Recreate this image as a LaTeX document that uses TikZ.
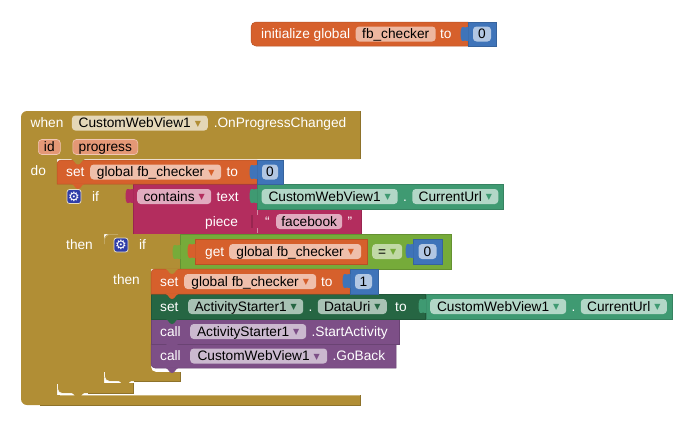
\documentclass[tikz,border=0pt]{standalone}
\usepackage{fontspec}
\setmainfont{Liberation Sans}
\newfontfamily\symfont{DejaVu Sans}
\usetikzlibrary{positioning}

\definecolor{orangeb}{HTML}{D6602C}
\definecolor{blueb}{HTML}{3F74B9}
\definecolor{mustb}{HTML}{B18E35}
\definecolor{crimb}{HTML}{B32D5E}
\definecolor{greenb}{HTML}{3F9A72}
\definecolor{darkb}{HTML}{266643}
\definecolor{purpb}{HTML}{7D4F87}
\definecolor{limeb}{HTML}{76AB3A}
\definecolor{gearb}{HTML}{2F3DA8}

% dropdown arrow inside a field
\newcommand{\drop}[1]{\hspace{4pt}\raisebox{1.2pt}{\symfont\fontsize{8}{8}\selectfont\textcolor{#1}{▼}}}
% tab under a statement block
\newcommand{\stab}[3]{\fill[#3] (#1+14,#2-.5) .. controls (#1+18,#2+1) and (#1+18,#2+5) .. (#1+21,#2+5) .. controls (#1+24,#2+5) and (#1+24,#2+1) .. (#1+28,#2-.5) -- cycle;}
% plug on the left of a value block
\newcommand{\vtab}[3]{\fill[#3] (#1+.5,#2+5) .. controls (#1-2,#2+7) and (#1-4,#2+4) .. (#1-6,#2+5) .. controls (#1-8,#2+7) and (#1-8,#2+17) .. (#1-6,#2+19) .. controls (#1-4,#2+20) and (#1-2,#2+17) .. (#1+.5,#2+19) -- cycle;}

\begin{document}
\begin{tikzpicture}[x=1pt,y=-1pt,font=\fontsize{13.7}{15}\selectfont,
    block/.style={fill=#1,draw=#1!85!black,line width=.5pt},
    lbl/.style={inner sep=0pt,text=white,text height=10pt,text depth=1pt},
    chip/.style={inner xsep=5pt,inner ysep=0pt,rounded corners=3.5pt,text=black,minimum height=15pt,text height=10pt,text depth=1pt},
    gear/.style={draw=mustb!30!white,fill=gearb,rounded corners=2.5pt,line width=.8pt,minimum size=14pt,inner sep=0pt,text=white,font=\symfont\fontsize{13}{13}\selectfont},
    hilite/.style={draw=mustb!65!white,line width=.5pt},
    shine/.style={draw=white!90!mustb,line width=.8pt}]
    \useasboundingbox (0,0) rectangle (690,426);

    % global variable
    \filldraw[block=orangeb,rounded corners=5pt] (300,46) -| (251,22) -- (300,22) [sharp corners] -- (468,22) -- (468,46) -- cycle;
    \filldraw[block=blueb] (468,22) rectangle (496,46);
    \vtab{468}{22}{blueb}
    \node[lbl,anchor=west] (init) at (261,34) {initialize global};
    \node[chip,fill=orangeb!45!white,minimum width=80pt] (initname) [right=5pt of init] {fb\_checker};
    \node[lbl] (initto) [right=4pt of initname] {to};
    \node[chip,fill=blueb!40!white,minimum width=18pt,inner xsep=0pt] (initval) at (482,34) {0};

    % event block
    \fill[mustb,rounded corners=6pt] (21,300) |- (60,111) [sharp corners] -- (360,111) -- (360,159) -- (57,159) -- (57,395) -- (360,395) -- (360,405) [rounded corners=6pt] -- (21,405) -- cycle;
    \draw[draw=mustb!80!black,line width=.6pt] (360,111) -- (360,159) (360,395) -- (360,405) -- (40,405);
    \draw[hilite] (60,395.3) -- (360,395.3);
    \node[lbl,anchor=west] (when) at (30.5,123) {when};
    \node[chip,fill=mustb!35!white,minimum width=136pt] (whenchip) [right=8pt of when] {CustomWebView1\drop{mustb}};
    \node[lbl] (whenevent) [right=5.5pt of whenchip] {.OnProgressChanged};
    \node[chip,fill=orangeb!65!white,draw=orangeb!35!white,line width=.6pt,minimum width=22pt,inner xsep=0pt,anchor=west] (idchip) at (38,147) {id};
    \node[chip,fill=orangeb!65!white,draw=orangeb!35!white,line width=.6pt,minimum width=65pt,inner xsep=0pt,anchor=west] (progresschip) at (72.5,147) {progress};
    \node[lbl,anchor=west] (dolbl) at (30.5,171) {do};

    % outer if
    \fill[mustb] (57,184) -- (133,184) -- (133,234) -- (104,234) -- (104,383) -- (133,383) -- (133,393) [rounded corners=6pt] -- (57,393) [sharp corners] -- cycle;
    \draw[shine,rounded corners=5pt] (57.5,384) -- (57.5,393.8) -- (72,393.8);
    \draw[draw=white,line width=1.2pt] (75,394.2) -- (133.5,394.2);
    \draw[draw=mustb!80!black,line width=.6pt] (133,383) -- (133,393) -- (88,393);
    \node[gear] (gear1) at (74,196.5) {⚙};
    \node[lbl,anchor=west] (if1) at (92,196.5) {if};
    \node[lbl,anchor=west] (then1) at (66,245) {then};

    % condition of the outer if
    \filldraw[block=crimb] (133,184) -- (257,184) -- (257,209) -- (361,209) -- (361,234) -- (133,234) -- cycle;
    \vtab{133}{184}{crimb}
    \node[chip,fill=crimb!40!white,minimum width=74pt,anchor=west] (contains) at (137,196.5) {contains\drop{crimb}};
    \node[lbl] (textlbl) [right=5pt of contains] {text};
    \node[lbl,anchor=west] (piecelbl) at (205,221.5) {piece};
    \draw[draw=crimb!55!white,line width=.6pt] (257,210) -- (257,215) (257,228) -- (257,233);
    \fill[crimb!85!black] (251,215) rectangle (253,228);
    \node[lbl,anchor=west] (lquote) at (265,222) {“};
    \node[chip,fill=crimb!40!white,minimum width=66pt,inner xsep=0pt,anchor=west] (facebook) at (276,221.5) {facebook};
    \node[lbl] (rquote) [right=5pt of facebook] {”};
    \filldraw[block=greenb] (257,184) rectangle (503,209);
    \vtab{257}{184}{greenb}
    \node[chip,fill=greenb!40!white,minimum width=136pt,anchor=west] (url1a) at (261.5,196.5) {CustomWebView1\drop{greenb}};
    \node[lbl] (url1dot) [right=5pt of url1a] {.};
    \node[chip,fill=greenb!40!white,minimum width=86pt] (url1b) [right=5pt of url1dot] {CurrentUrl\drop{greenb}};

    % inner if
    \fill[mustb,rounded corners=6pt] (104,300) |- (120,234) [sharp corners] -- (180,234) -- (180,269) -- (151,269) [rounded corners=5pt] -- (151,372) [sharp corners] -- (180,372) -- (180,381) [rounded corners=6pt] -- (104,381) -- cycle;
    \draw[hilite,rounded corners=6pt] (104.5,244) -- (104.5,234.5) -- (118,234.5);
    \draw[shine,rounded corners=5pt] (104.5,372) -- (104.5,381.5) -- (117,381.5);
    \draw[draw=mustb!80!black,line width=.6pt] (180,372) -- (180,381) -- (134,381);
    \node[gear] (gear2) at (121,245) {⚙};
    \node[lbl,anchor=west] (if2) at (139,245) {if};
    \node[lbl,anchor=west] (then2) at (113,280) {then};

    % condition of the inner if
    \filldraw[block=limeb] (180,234) rectangle (451,269);
    \vtab{180}{240}{limeb}
    \filldraw[block=orangeb] (195,239) rectangle (367,264);
    \vtab{195}{239}{orangeb}
    \node[lbl,anchor=west] (getlbl) at (205,251.5) {get};
    \node[chip,fill=orangeb!40!white,minimum width=132pt,anchor=west] (getchip) at (229,251.5) {global fb\_checker\drop{orangeb}};
    \node[chip,fill=limeb!45!white,minimum width=30pt,inner xsep=0pt,anchor=west] (eqchip) at (372,251.5) {=\drop{limeb}};
    \filldraw[block=blueb] (413,239) rectangle (442,264);
    \vtab{413}{239}{blueb}
    \node[chip,fill=blueb!40!white,minimum width=18pt,inner xsep=0pt] (eqval) at (427.5,251.5) {0};

    % statements of the inner if, lowest first so the tabs lie on top
    \filldraw[block=purpb,rounded corners=4pt] (151,350) |- (180,368) [sharp corners] -- (396,368) -- (396,344) -- (151,344) -- cycle;
    \filldraw[block=purpb] (151,319) rectangle (399,344);
    \stab{151}{344}{purpb}
    \stab{151}{368}{purpb}
    \filldraw[block=darkb] (151,294) rectangle (425,319);
    \stab{151}{319}{darkb}
    \filldraw[block=greenb] (426,294) rectangle (672,319);
    \vtab{426}{294}{greenb}
    \filldraw[block=orangeb,rounded corners=4pt] (151,285) |- (180,269) [sharp corners] -- (350,269) -- (350,294) -- (151,294) -- cycle;
    \stab{151}{294}{orangeb}
    \stab{151}{269}{mustb}
    \filldraw[block=blueb] (350,269) rectangle (378,294);
    \vtab{350}{269}{blueb}
    \node[lbl,anchor=west] (set3) at (160,281.5) {set};
    \node[chip,fill=orangeb!40!white,minimum width=132pt,anchor=west] (set3chip) at (184,281.5) {global fb\_checker\drop{orangeb}};
    \node[lbl] (set3to) [right=4.5pt of set3chip] {to};
    \node[chip,fill=blueb!40!white,minimum width=17pt,inner xsep=0pt] (set3val) at (363.5,281.5) {1};
    \node[lbl,anchor=west] (set4) at (160,306.5) {set};
    \node[chip,fill=darkb!40!white,minimum width=115pt,anchor=west] (set4a) at (188,306.5) {ActivityStarter1\drop{darkb}};
    \node[lbl] (set4dot) [right=5pt of set4a] {.};
    \node[chip,fill=darkb!40!white,minimum width=69pt] (set4b) [right=5pt of set4dot] {DataUri\drop{darkb}};
    \node[lbl] (set4to) [right=8pt of set4b] {to};
    \node[chip,fill=greenb!40!white,minimum width=136pt,anchor=west] (url2a) at (430,306.5) {CustomWebView1\drop{greenb}};
    \node[lbl] (url2dot) [right=5pt of url2a] {.};
    \node[chip,fill=greenb!40!white,minimum width=86pt] (url2b) [right=5pt of url2dot] {CurrentUrl\drop{greenb}};
    \node[lbl,anchor=west] (call1) at (160,331.5) {call};
    \node[chip,fill=purpb!40!white,minimum width=116pt,anchor=west] (call1chip) at (190,331.5) {ActivityStarter1\drop{purpb}};
    \node[lbl] (call1name) [right=5pt of call1chip] {.StartActivity};
    \node[lbl,anchor=west] (call2) at (160,356) {call};
    \node[chip,fill=purpb!40!white,minimum width=137pt,anchor=west] (call2chip) at (190,356) {CustomWebView1\drop{purpb}};
    \node[lbl] (call2name) [right=5pt of call2chip] {.GoBack};

    % first statement of the event block
    \filldraw[block=orangeb,rounded corners=4pt] (57,175) |- (85,160) [sharp corners] -- (257,160) -- (257,184) -- (57,184) -- cycle;
    \stab{57}{184}{orangeb}
    \stab{57}{159.5}{mustb}
    \filldraw[block=blueb] (257,160) rectangle (283,184);
    \vtab{257}{160}{blueb}
    \node[lbl,anchor=west] (set1) at (66,172) {set};
    \node[chip,fill=orangeb!40!white,minimum width=131pt,anchor=west] (set1chip) at (90,172) {global fb\_checker\drop{orangeb}};
    \node[lbl] (set1to) [right=5pt of set1chip] {to};
    \node[chip,fill=blueb!40!white,minimum width=16pt,inner xsep=0pt] (set1val) at (270,172) {0};

    % tabs of the two if blocks
    \stab{57}{393}{mustb}
    \stab{104}{381}{mustb}
\end{tikzpicture}
\end{document}
